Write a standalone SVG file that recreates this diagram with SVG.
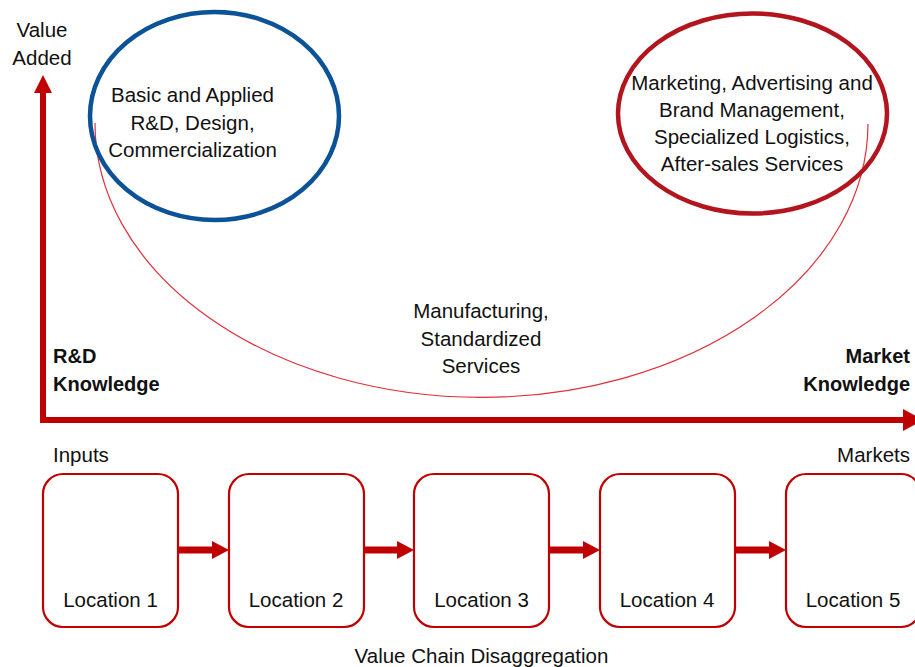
<svg xmlns="http://www.w3.org/2000/svg" width="915" height="667" viewBox="0 0 915 667">
<style>
text{font-family:"Liberation Sans",Arial,sans-serif;font-size:20.5px;fill:#111}
.b{font-weight:bold;font-size:20px}
.m{text-anchor:middle}
.e{text-anchor:end}
.box{fill:#fff;stroke:#C00000;stroke-width:2.2}
.ax{fill:none;stroke:#C00000;stroke-width:6;stroke-linejoin:miter}
.ah{fill:#C00000}
.cs{fill:none;stroke:#C00000;stroke-width:7}
</style>
<rect width="915" height="667" fill="#fff"/>
<g id="arc">
<path d="M95,123 A386.5,274 0 0 0 868,124" fill="none" stroke="#E0303A" stroke-width="1.2"/>
</g>
<g id="axes">
<path class="ax" d="M43,90 L43,420 L905,420"/>
<polygon class="ah" points="43,75 52,93 34,93"/>
<polygon class="ah" points="923,420 903,409 903,431"/>
<text x="42" y="37" class="m">Value</text>
<text x="42" y="65" class="m">Added</text>
<text x="53" y="363" class="b">R&amp;D</text>
<text x="53" y="391" class="b">Knowledge</text>
<text x="910" y="363" class="b e">Market</text>
<text x="910" y="391" class="b e">Knowledge</text>
</g>
<g id="rd-ellipse">
<ellipse cx="214.5" cy="116" rx="124.5" ry="104" fill="none" stroke="#0C5296" stroke-width="4.5"/>
<text x="192.5" y="102" class="m">Basic and Applied</text>
<text x="192.5" y="130" class="m">R&amp;D, Design,</text>
<text x="192.5" y="157" class="m">Commercialization</text>
</g>
<g id="market-ellipse">
<ellipse cx="752.5" cy="113.5" rx="134.5" ry="100" fill="none" stroke="#B3151E" stroke-width="4.5"/>
<text x="752" y="90" class="m">Marketing, Advertising and</text>
<text x="752" y="117" class="m">Brand Management,</text>
<text x="752" y="144" class="m">Specialized Logistics,</text>
<text x="752" y="171" class="m">After-sales Services</text>
</g>
<g id="manufacturing">
<text x="481" y="318" class="m">Manufacturing,</text>
<text x="481" y="346" class="m">Standardized</text>
<text x="481" y="373" class="m">Services</text>
</g>
<text x="53" y="462">Inputs</text>
<text x="910" y="462" class="e">Markets</text>
<g id="connectors">
<line class="cs" x1="178" y1="550" x2="213" y2="550"/>
<polygon class="ah" points="229,550 212,541 212,559"/>
<line class="cs" x1="363" y1="550" x2="398" y2="550"/>
<polygon class="ah" points="414,550 397,541 397,559"/>
<line class="cs" x1="549" y1="550" x2="584" y2="550"/>
<polygon class="ah" points="600,550 583,541 583,559"/>
<line class="cs" x1="735" y1="550" x2="770" y2="550"/>
<polygon class="ah" points="786,550 769,541 769,559"/>
</g>
<g id="loc1"><rect class="box" x="43" y="474" width="135" height="153" rx="20"/><text x="110.5" y="607" class="m">Location 1</text></g>
<g id="loc2"><rect class="box" x="229" y="474" width="135" height="153" rx="20"/><text x="296" y="607" class="m">Location 2</text></g>
<g id="loc3"><rect class="box" x="414" y="474" width="135" height="153" rx="20"/><text x="481.5" y="607" class="m">Location 3</text></g>
<g id="loc4"><rect class="box" x="600" y="474" width="135" height="153" rx="20"/><text x="667" y="607" class="m">Location 4</text></g>
<g id="loc5"><rect class="box" x="786" y="474" width="135" height="153" rx="20"/><text x="853" y="607" class="m">Location 5</text></g>
<text x="481.5" y="663" class="m">Value Chain Disaggregation</text>
</svg>
